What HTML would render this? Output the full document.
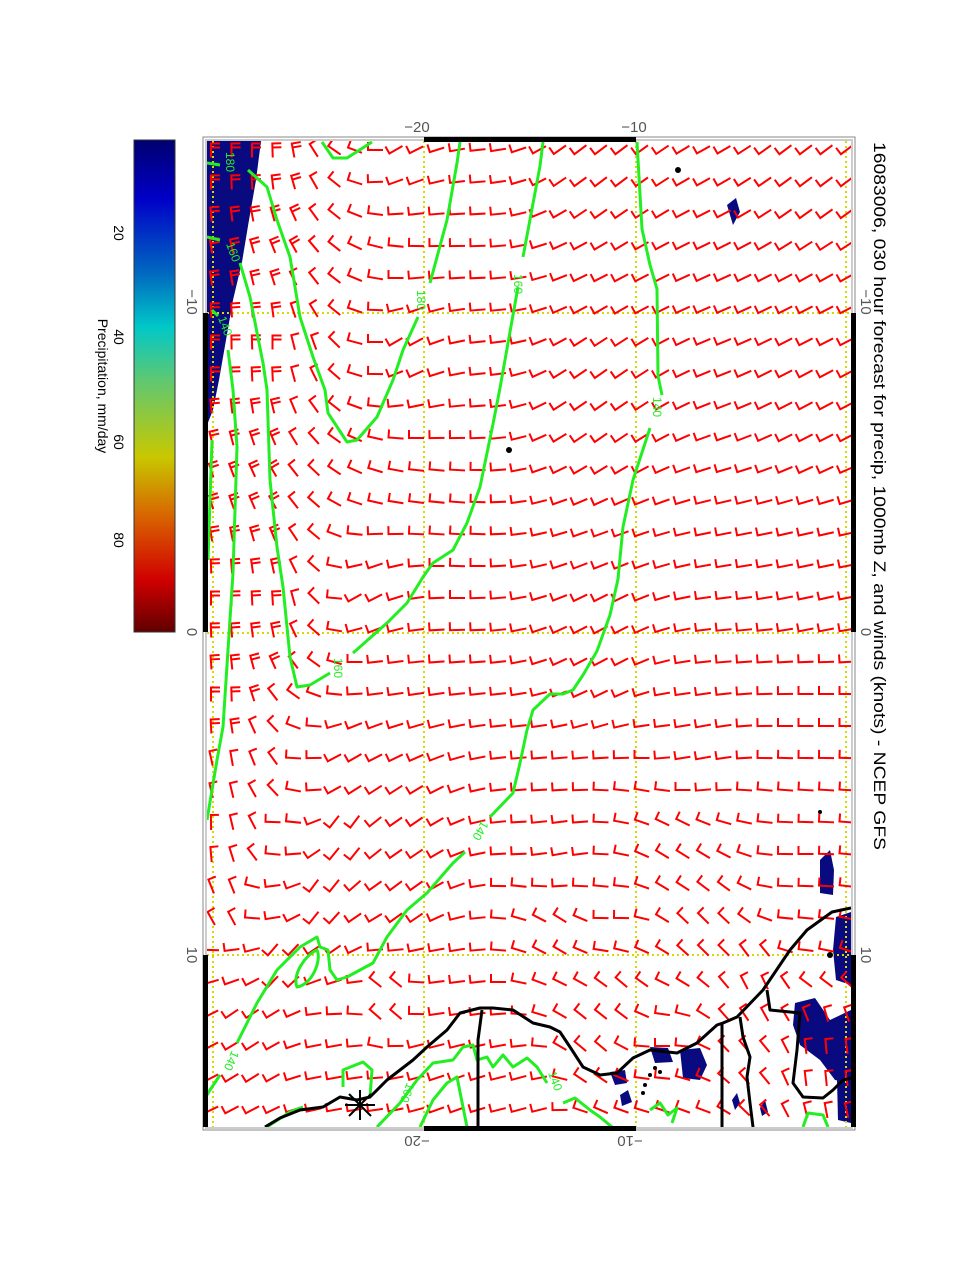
<!DOCTYPE html>
<html><head><meta charset="utf-8"><style>
html,body{margin:0;padding:0;background:#fff;}
svg{display:block;font-family:"Liberation Sans",sans-serif;}
</style></head><body>
<svg id="s" width="978" height="1265" viewBox="0 0 978 1265" xmlns="http://www.w3.org/2000/svg">
<defs>
<linearGradient id="cb" x1="0" y1="0" x2="0" y2="1">
<stop offset="0" stop-color="#000070"/>
<stop offset="0.12" stop-color="#0000c8"/>
<stop offset="0.27" stop-color="#0068c0"/>
<stop offset="0.38" stop-color="#00c8c8"/>
<stop offset="0.49" stop-color="#60c870"/>
<stop offset="0.644" stop-color="#c8c800"/>
<stop offset="0.77" stop-color="#d86000"/>
<stop offset="0.894" stop-color="#d00000"/>
<stop offset="1" stop-color="#600000"/>
</linearGradient>
<clipPath id="pc"><rect x="207" y="141" width="644" height="986"/></clipPath>
</defs>
<rect x="134" y="140" width="41" height="492" fill="url(#cb)" stroke="#333" stroke-width="1"/>
<g font-size="14" fill="#000">
<text transform="translate(114,233) rotate(90)" text-anchor="middle">20</text>
<text transform="translate(114,337) rotate(90)" text-anchor="middle">40</text>
<text transform="translate(114,442) rotate(90)" text-anchor="middle">60</text>
<text transform="translate(114,540) rotate(90)" text-anchor="middle">80</text>
<text transform="translate(98,386) rotate(90)" text-anchor="middle" font-size="14">Precipitation, mm/day</text>
</g>
<text transform="translate(874,142) rotate(90)" font-size="17" textLength="708" lengthAdjust="spacingAndGlyphs">16083006, 030 hour forecast for precip, 1000mb Z, and winds (knots) - NCEP GFS</text>
<rect x="203" y="137" width="652" height="993" fill="#fff" stroke="#888" stroke-width="1"/>
<rect x="206" y="140" width="646" height="988" fill="none" stroke="#ccc" stroke-width="2"/>
<g clip-path="url(#pc)">
<g fill="#0a0a80">
<path d="M207,141 L261,141 L256,180 L249,220 L242,262 L233,300 L226,340 L219,380 L213,410 L207,425 Z"/>
<path d="M727,205 L736,198 L740,212 L733,225 Z"/>
<path d="M820,860 L830,850 L834,870 L833,895 L820,893 Z"/>
<path d="M836,917 L851,912 L851,985 L836,980 L833,950 Z"/>
<path d="M795,1003 L815,998 L830,1020 L851,1010 L851,1083 L835,1080 L820,1060 L800,1045 L793,1025 Z"/>
<path d="M680,1050 L700,1048 L707,1065 L700,1080 L683,1078 Z"/>
<path d="M650,1047 L668,1048 L673,1062 L655,1063 Z"/>
<path d="M610,1072 L625,1070 L627,1083 L615,1085 Z"/>
<path d="M837,1080 L851,1075 L851,1123 L838,1120 Z"/>
<path d="M620,1095 L628,1090 L632,1102 L622,1106Z"/>
<path d="M732,1100 L737,1093 L740,1103 L735,1110Z"/>
<path d="M760,1108 L765,1100 L768,1112 L762,1116Z"/>
</g>
<g stroke="#d8d800" stroke-width="2" stroke-dasharray="2,3" fill="none">
<line x1="213" y1="141" x2="213" y2="1127"/>
<line x1="424" y1="141" x2="424" y2="1127"/>
<line x1="636" y1="141" x2="636" y2="1127"/>
<line x1="846" y1="141" x2="846" y2="1127"/>
<line x1="207" y1="313" x2="851" y2="313"/>
<line x1="207" y1="633" x2="851" y2="633"/>
<line x1="207" y1="955" x2="851" y2="955"/>
</g>
<g id="barbs" stroke="#ff0000" stroke-width="2" fill="none" stroke-linecap="square"></g>
<g stroke="#22ee22" stroke-width="3" fill="none" stroke-linejoin="round">
<polyline points="543,142 540,166 523,257"/>
<polyline points="518,287 500,388 493,424 480,487 467,523 453,550 433,563 423,577 407,603 387,623 353,653"/>
<polyline points="330,673 310,685 297,687 290,657 283,587 277,547 270,480 267,390 263,363 250,297 240,263"/>
<polyline points="637,142 642,229 650,265 657,289 658,376 662,395"/>
<polyline points="650,428 633,480 623,527 618,579 610,615 597,651 583,675 573,690 563,694 550,694 533,710 527,730 520,763 513,793 490,817"/>
<polyline points="465,852 453,863 427,893 407,910 387,937 373,963 360,970 347,977 337,980 330,970 328,950 320,947 317,937 300,947 277,970 257,1003 237,1043"/>
<polyline points="220,1075 210,1090 207,1095"/>
<path d="M297,987 C292,975 305,955 317,950 C322,960 312,985 297,987 Z"/>
<polyline points="322,142 333,158 347,158 372,142"/>
<polyline points="248,170 267,187 277,220 290,257 300,317 313,357 325,390 328,413 347,442 357,440 377,417 393,380 403,350 418,317"/>
<polyline points="430,283 447,220 457,163 460,142"/>
<polyline points="207,163 220,165"/>
<polyline points="207,237 220,240"/>
<polyline points="212,310 218,316"/>
<polyline points="228,350 233,390 237,447 233,573 223,727 217,760 207,820"/>
<polyline points="212,440 208,560"/>
<polyline points="377,1127 400,1103 417,1080 433,1063 453,1060 463,1047 473,1045 477,1060 487,1057 493,1067 503,1055 513,1067 527,1058 537,1067 547,1083"/>
<polyline points="420,1127 433,1100 447,1083 457,1077 467,1127"/>
<path d="M343,1087 L343,1070 L363,1062 L372,1070 L370,1097"/>
<polyline points="267,1127 290,1112 303,1107"/>
<polyline points="563,1103 575,1098 590,1110 600,1117 612,1127"/>
<polyline points="650,1110 660,1103 668,1115 677,1108 672,1123"/>
<polyline points="803,1127 808,1113 823,1115 828,1127"/>
</g>
<g fill="#22ee22" font-size="12">
<text transform="translate(514,274) rotate(90)">160</text>
<text transform="translate(334,658) rotate(90)">160</text>
<text transform="translate(653,397) rotate(90)">140</text>
<text transform="translate(482,820) rotate(120)">140</text>
<text transform="translate(232,1050) rotate(115)">140</text>
<text transform="translate(226,152) rotate(90)">180</text>
<text transform="translate(226,244) rotate(70)">160</text>
<text transform="translate(417,290) rotate(90)">180</text>
<text transform="translate(218,318) rotate(70)">140</text>
<text transform="translate(548,1073) rotate(70)">140</text>
<text transform="translate(407,1082) rotate(110)">160</text>
</g>
<g stroke="#000" stroke-width="3" fill="none" stroke-linejoin="round">
<polyline points="851,908 832,912 807,930 790,950 763,990 737,1017 723,1023 717,1025 697,1043 677,1053 650,1050 633,1058 617,1073 600,1075 583,1067 570,1047 560,1032 550,1027 533,1023 513,1010 493,1008 480,1008 460,1013 447,1030 427,1047 413,1060 387,1080 370,1097 357,1100 340,1097 323,1107 300,1110 280,1118 265,1127"/>
<polyline points="482,1010 478,1040 478,1127"/>
<polyline points="722,1023 722,1127"/>
<polyline points="740,1017 743,1037 750,1057 747,1077 750,1103 753,1127"/>
<polyline points="767,990 770,1010 800,1013 797,1050 793,1083 803,1097 823,1098 833,1090 843,1080 851,1078"/>
</g>
<g fill="#000">
<circle cx="678" cy="170" r="3"/><circle cx="509" cy="450" r="3"/>
<circle cx="645" cy="1085" r="2"/><circle cx="650" cy="1075" r="2"/><circle cx="655" cy="1068" r="2"/><circle cx="660" cy="1072" r="2"/><circle cx="643" cy="1093" r="2"/>
<circle cx="830" cy="955" r="3"/><circle cx="820" cy="812" r="2"/>
</g>
<g stroke="#000" stroke-width="2">
<line x1="345" y1="1105" x2="375" y2="1105"/><line x1="360" y1="1090" x2="360" y2="1120"/>
<line x1="349" y1="1094" x2="371" y2="1116"/><line x1="349" y1="1116" x2="371" y2="1094"/>
</g>
</g>
<g fill="#000">
<rect x="203" y="313" width="5" height="319"/>
<rect x="203" y="955" width="5" height="172"/>
<rect x="851" y="313" width="5" height="319"/>
<rect x="851" y="955" width="5" height="172"/>
<rect x="424" y="137" width="212" height="5"/>
<rect x="424" y="1126" width="212" height="5"/>
</g>
<g fill="#555" font-size="15">
<text x="417" y="132" text-anchor="middle">−20</text>
<text x="634" y="132" text-anchor="middle">−10</text>
<text transform="translate(417,1136) rotate(180)" text-anchor="middle">−20</text>
<text transform="translate(630,1136) rotate(180)" text-anchor="middle">−10</text>
<text transform="translate(187,302) rotate(90)" text-anchor="middle">−10</text>
<text transform="translate(187,632) rotate(90)" text-anchor="middle">0</text>
<text transform="translate(187,955) rotate(90)" text-anchor="middle">10</text>
<text transform="translate(861,302) rotate(90)" text-anchor="middle">−10</text>
<text transform="translate(861,632) rotate(90)" text-anchor="middle">0</text>
<text transform="translate(861,955) rotate(90)" text-anchor="middle">10</text>
</g>
</svg>
<script>
(function(){
var C=[[215,150,270,2],[260,150,270,2],[300,150,260,2],[320,150,235,1],[345,150,205,1],[370,150,180,1],[395,150,150,1],
[215,350,270,2],[270,350,270,2],[305,350,255,1],[330,350,225,1],[355,350,195,1],[378,350,180,1],[400,350,148,1],
[215,600,270,2],[265,600,268,2],[290,600,255,1],[310,600,225,1],[335,600,185,1],[360,600,150,1],
[600,150,143,1],[820,150,143,1],[600,400,145,1],[820,400,152,1],[820,600,168,1],[820,700,180,1],[600,650,152,1],[700,750,170,1],
[215,700,270,2],[235,767,260,1],[272,767,235,1],[300,767,180,1],[345,767,150,1],
[217,833,270,1],[245,833,250,1],[270,833,180,1],[345,833,125,1],[400,833,145,1],
[225,900,250,1],[270,900,172,1],[320,900,125,1],[400,900,143,1],
[235,963,172,1],[280,963,128,1],[330,963,145,1],
[240,1000,145,1],[330,1000,178,1],[385,1000,225,1],[440,1000,172,1],
[250,1060,148,1],[330,1060,170,1],[420,1060,165,1],[450,1090,160,1],
[560,863,170,1],[680,863,212,1],[800,863,180,1],
[560,925,212,1],[610,925,180,1],[700,925,225,1],[800,925,185,1],
[620,987,220,1],[760,987,245,1],
[590,1040,220,1],[660,1050,180,1],[750,1050,230,1],[820,1060,265,1],[520,1100,165,1],[680,1110,200,1]];
var g=document.getElementById('barbs'),out='';
for(var r=0;r<31;r++){for(var c=0;c<32;c++){
 var x=211+c*20.5,y=150+r*32;
 var sx=0,sy=0,best=1e9,n=1;
 for(var i=0;i<C.length;i++){var dx=x-C[i][0],dy=(y-C[i][1])*0.7,d2=dx*dx+dy*dy+1;
  var w=1/Math.pow(d2,1.6),a=C[i][2]*Math.PI/180;sx+=w*Math.cos(a);sy+=w*Math.sin(a);
  if(d2<best){best=d2;n=C[i][3];}}
 var a=Math.atan2(sy,sx),L=n==2?13:14,ux=Math.cos(a),uy=Math.sin(a);
 var bx=x-ux*L/2,by=y-uy*L/2,tx=bx+ux*L,ty=by+uy*L;
 var fa=a+Math.PI/2,fl=n==2?8:7,fx=Math.cos(fa),fy=Math.sin(fa);
 out+='<path d="M'+bx.toFixed(1)+','+by.toFixed(1)+'L'+tx.toFixed(1)+','+ty.toFixed(1)+'l'+(fx*fl).toFixed(1)+','+(fy*fl).toFixed(1);
 if(n==2){var t2x=tx-ux*4,t2y=ty-uy*4;out+='M'+t2x.toFixed(1)+','+t2y.toFixed(1)+'l'+(fx*fl).toFixed(1)+','+(fy*fl).toFixed(1);}
 out+='"/>';
}}
g.innerHTML=out;
})();
</script>
</body></html>
